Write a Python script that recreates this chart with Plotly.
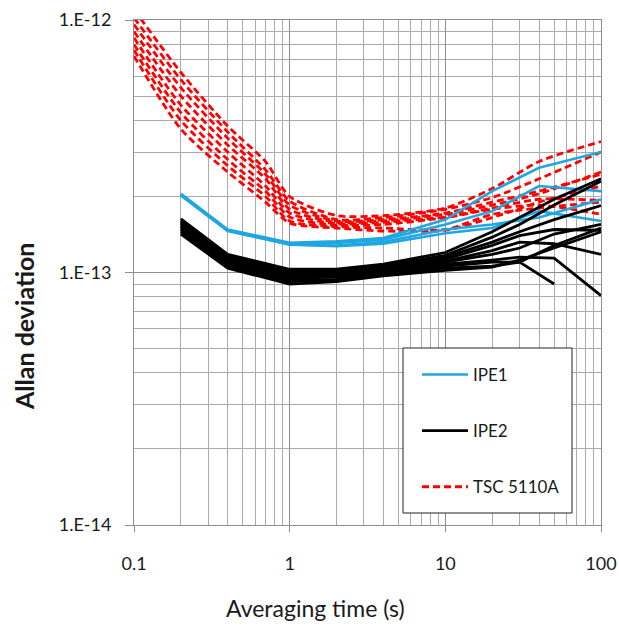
import plotly.graph_objects as go

# ---------------- data (Allan deviation in units of 1e-13) ----------------
SCALE = 1e-13

tau_tsc = [0.1, 0.2, 0.4, 0.7, 1, 2, 4, 10, 20, 40, 100]
tsc_1 = [11.0, 6.2, 3.8, 2.75, 2.00, 1.68, 1.68, 1.80, 2.15, 2.75, 3.30]
tsc_2 = [10.2, 5.8, 3.6, 2.55, 1.92, 1.62, 1.65, 1.78, 1.98, 2.35, 3.00]
tsc_3 = [9.6, 5.4, 3.4, 2.45, 1.85, 1.60, 1.62, 1.72, 1.90, 2.10, 2.45]
tsc_4 = [9.0, 5.0, 3.2, 2.35, 1.78, 1.58, 1.60, 1.70, 1.85, 2.05, 2.50]
tsc_5 = [8.5, 4.6, 3.0, 2.20, 1.72, 1.56, 1.58, 1.66, 1.80, 1.95, 1.93]
tsc_6 = [8.0, 4.3, 2.8, 2.10, 1.66, 1.54, 1.55, 1.65, 1.78, 1.85, 1.70]
tsc_7 = [7.6, 4.0, 2.65, 2.00, 1.60, 1.52, 1.50, 1.48, 1.70, 1.80, 1.90]
tsc_8 = [7.2, 3.7, 2.5, 1.90, 1.57, 1.50, 1.46, 1.47, 1.65, 1.90, 2.20]

tau_ipe1 = [0.2, 0.4, 1, 2, 4, 10, 20, 40, 100]
ipe1_1 = [2.05, 1.48, 1.31, 1.33, 1.37, 1.62, 2.10, 2.60, 3.00]
ipe1_2 = [2.04, 1.47, 1.30, 1.31, 1.35, 1.55, 1.75, 2.20, 2.10]
ipe1_3 = [2.03, 1.47, 1.29, 1.28, 1.32, 1.48, 1.55, 1.65, 1.95]
ipe1_4 = [2.02, 1.46, 1.29, 1.27, 1.30, 1.43, 1.50, 1.75, 1.60]

tau_ipe2 = [0.2, 0.4, 1, 2, 4, 10, 20, 30, 50, 100]
ipe2_1 = [1.63, 1.18, 1.03, 1.03, 1.08, 1.20, 1.45, 1.65, 1.95, 2.35]
ipe2_2 = [1.60, 1.16, 1.01, 1.01, 1.06, 1.17, 1.38, 1.55, 1.85, 2.30]
ipe2_3 = [1.58, 1.14, 1.00, 1.00, 1.05, 1.15, 1.32, 1.45, 1.62, 1.84]
ipe2_4 = [1.56, 1.12, 0.99, 0.99, 1.04, 1.13, 1.28, 1.40, 1.48, 1.47]
ipe2_5 = [1.54, 1.11, 0.98, 0.98, 1.03, 1.11, 1.22, 1.32, 1.30, 1.18]
ipe2_6 = [1.52, 1.10, 0.97, 0.97, 1.02, 1.10, 1.18, 1.25, 1.42, 1.55]
ipe2_7 = [1.50, 1.08, 0.95, 0.96, 1.01, 1.08, 1.12, 1.15, 1.14, 0.81]
ipe2_8 = [1.48, 1.07, 0.93, 0.94, 1.00, 1.06, 1.10, 1.10, 0.90, None]
ipe2_9 = [1.45, 1.06, 0.92, 0.93, 0.98, 1.04, 1.06, 1.10, 1.28, 1.50]
ipe2_10 = [1.42, 1.04, 0.90, 0.92, 0.97, 1.02, 1.05, 1.12, 1.25, 1.45]

x_tick_vals = [0.1, 1, 10, 100]
x_tick_text = ["0.1", "1", "10", "100"]
y_tick_vals = [1e-14, 1e-13, 1e-12]
y_tick_text = ["1.E-14", "1.E-13", "1.E-12"]

# ---------------- figure ----------------
FONT = "Lato"
RED = "#ff0000"
BLUE = "#1ea7e1"
BLACK = "#000000"


def scaled(vals):
    return [None if v is None else v * SCALE for v in vals]


fig = go.Figure()

tsc_runs = [tsc_1, tsc_2, tsc_3, tsc_4, tsc_5, tsc_6, tsc_7, tsc_8]
for i, run in enumerate(tsc_runs):
    fig.add_trace(go.Scatter(
        x=tau_tsc, y=scaled(run), mode="lines", name="TSC 5110A",
        legendgroup="tsc", legendrank=3, showlegend=(i == 0),
        line=dict(color=RED, width=2.8, dash="7px,4px", shape="spline", smoothing=0.7),
        connectgaps=False,
    ))

ipe1_runs = [ipe1_1, ipe1_2, ipe1_3, ipe1_4]
for i, run in enumerate(ipe1_runs):
    fig.add_trace(go.Scatter(
        x=tau_ipe1, y=scaled(run), mode="lines", name="IPE1",
        legendgroup="ipe1", legendrank=1, showlegend=(i == 0),
        line=dict(color=BLUE, width=2.6),
    ))

ipe2_runs = [ipe2_1, ipe2_2, ipe2_3, ipe2_4, ipe2_5, ipe2_6, ipe2_7, ipe2_8, ipe2_9, ipe2_10]
for i, run in enumerate(ipe2_runs):
    fig.add_trace(go.Scatter(
        x=tau_ipe2, y=scaled(run), mode="lines", name="IPE2",
        legendgroup="ipe2", legendrank=2, showlegend=(i == 0),
        line=dict(color=BLACK, width=2.8),
        connectgaps=False,
    ))

# body margin is removed by the post script, so the figure fills the window
W, H = 619, 628
L, T = 134, 20
PW, PH = 467, 505
R = W - L - PW
B = H - T - PH


def px(xp):
    return (xp - L) / PW


def py(yp):
    return (T + PH - yp) / PH


MAJOR = "#8e8e8e"
MINOR = "#ababab"

fig.update_xaxes(
    type="log", range=[-1, 2],
    tickvals=x_tick_vals, ticktext=x_tick_text,
    ticks="outside", ticklen=6, tickcolor=MAJOR, tickwidth=1,
    showgrid=True, gridcolor=MAJOR, gridwidth=1,
    minor=dict(dtick="D1", showgrid=True, gridcolor=MINOR, gridwidth=1, ticks=""),
    showline=True, linecolor=MAJOR, linewidth=1, mirror=True,
    tickfont=dict(family=FONT, size=18, color="#1a1a1a"),
    ticklabelstandoff=16, zeroline=False,
)
fig.update_yaxes(
    type="log", range=[-14, -12],
    tickvals=y_tick_vals, ticktext=y_tick_text,
    ticks="outside", ticklen=8, tickcolor=MAJOR, tickwidth=1,
    showgrid=True, gridcolor=MAJOR, gridwidth=1,
    minor=dict(dtick="D1", showgrid=True, gridcolor=MINOR, gridwidth=1, ticks=""),
    showline=True, linecolor=MAJOR, linewidth=1, mirror=True,
    tickfont=dict(family=FONT, size=18, color="#1a1a1a"),
    ticklabelstandoff=10, zeroline=False,
)

fig.update_layout(
    width=W, height=H,
    margin=dict(l=L, r=R, t=T, b=B, autoexpand=False),
    paper_bgcolor="white", plot_bgcolor="white",
    showlegend=True,
    legend=dict(
        x=px(417), y=py(357), xanchor="left", yanchor="top",
        bgcolor="rgba(0,0,0,0)", borderwidth=0,
        font=dict(family=FONT, size=17, color="#1a1a1a"),
        traceorder="grouped", tracegroupgap=31, itemwidth=46,
    ),
    shapes=[dict(
        type="rect", xref="paper", yref="paper",
        x0=px(403), x1=px(572), y0=py(513), y1=py(348),
        line=dict(color="#222222", width=1), fillcolor="white", layer="above",
    )],
    annotations=[
        dict(text="Averaging time (s)", xref="paper", yref="paper",
             x=px(315), y=py(608), xanchor="center", yanchor="middle",
             showarrow=False, font=dict(family=FONT, size=23, color="#1a1a1a")),
        dict(text="<b>Allan deviation</b>", xref="paper", yref="paper",
             x=px(24), y=py(327), xanchor="center", yanchor="middle", textangle=-90,
             showarrow=False, font=dict(family=FONT, size=25, color="#1a1a1a")),
    ],
)

fig.write_html(
    "out.html",
    config=dict(displayModeBar=False),
    post_script="document.body.style.margin='0';document.body.style.overflow='hidden';",
)
